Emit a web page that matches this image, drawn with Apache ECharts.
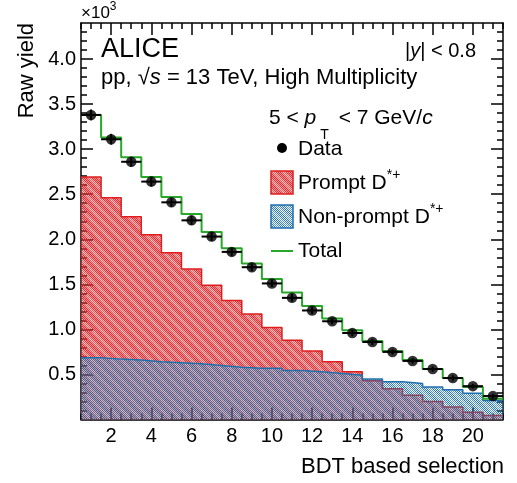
<!DOCTYPE html>
<html>
<head>
<meta charset="utf-8">
<script src="https://cdn.jsdelivr.net/npm/echarts@6/dist/echarts.min.js"></script>
<style>
html,body{margin:0;padding:0;background:#fff;}
#chart{width:517px;height:483px;}
</style>
</head>
<body>
<div id="chart"></div>
<script>
// ---- data (values in units of 10^3) ----
const bins = [1,2,3,4,5,6,7,8,9,10,11,12,13,14,15,16,17,18,19,20,21];
const dataYield = [3.38,3.11,2.86,2.64,2.41,2.21,2.03,1.86,1.69,1.51,1.35,1.21,1.09,0.96,0.86,0.75,0.65,0.56,0.46,0.37,0.26];
const dataErr   = [0.06,0.06,0.055,0.055,0.05,0.05,0.05,0.045,0.045,0.04,0.04,0.04,0.035,0.035,0.035,0.03,0.03,0.03,0.03,0.025,0.025];
const promptYield    = [2.69,2.46,2.25,2.05,1.85,1.67,1.49,1.32,1.17,1.02,0.88,0.76,0.64,0.53,0.43,0.34,0.27,0.20,0.14,0.08,0.045];
const nonPromptYield = [0.685,0.67,0.66,0.64,0.63,0.62,0.60,0.58,0.57,0.57,0.545,0.53,0.51,0.49,0.45,0.42,0.40,0.36,0.33,0.29,0.21];
const totalYield     = [3.38,3.13,2.91,2.69,2.47,2.28,2.08,1.90,1.73,1.56,1.41,1.26,1.12,0.99,0.87,0.76,0.66,0.56,0.46,0.36,0.23];
const xLabels = [2,4,6,8,10,12,14,16,18,20];
const yLabels = [0.5,1.0,1.5,2.0,2.5,3.0,3.5,4.0];

const FONT = '"Liberation Sans", Arial, Helvetica, sans-serif';

// ---- fill patterns (ROOT-like checker + hatch) ----
function makePattern(r,g,b,aOn,aOff,sOn,sOff){
  const n = 10;
  const c = document.createElement('canvas');
  c.width = n; c.height = n;
  const ctx = c.getContext('2d');
  for (let i=0;i<n;i++){
    for (let j=0;j<n;j++){
      const inStripe = ((i - j) % n + n) % n < 4;
      const on = (i + j) % 2 === 0;
      let a;
      if (!inStripe) a = on ? aOn : aOff;
      else a = on ? sOn : sOff;
      ctx.fillStyle = 'rgba('+r+','+g+','+b+','+a+')';
      ctx.fillRect(i,j,1,1);
    }
  }
  return c;
}
const redPat = makePattern(232,45,50, 1.0, 0.5, 0.75, 0.3);
const bluePat = makePattern(36,112,170, 0.95, 0.12, 0.7, 0.1);

function stepData(arr){
  const d = arr.map((v,i)=>[bins[i]-0.5, v]);
  d.push([bins[bins.length-1]+0.5, arr[arr.length-1]]);
  return d;
}

function range(a,b,s){ const r=[]; for(let v=a; v<=b+1e-9; v+=s) r.push(Math.round(v*100)/100); return r; }
const xMajor = range(2,20,2);
const xMinor = range(0.5,21.5,0.5).filter(v=>xMajor.indexOf(v)<0);
const yMajor = range(0.5,4.0,0.5);
const yMinor = range(0.1,4.3,0.1).filter(v=>yMajor.indexOf(v)<0);

function xAxisDef(pos, ticks, len, showLine, labels){
  return {
    type:'value', min:0.5, max:21.5, position:pos,
    axisLine:{show:showLine, onZero:false, lineStyle:{color:'#000', width:1.5}},
    axisTick:{show:true, inside:true, length:len, customValues:ticks, lineStyle:{color:'#000', width:1.5}},
    axisLabel: labels ? {show:true, customValues:labels, color:'#000', fontSize:20, fontFamily:FONT, margin:7} : {show:false},
    splitLine:{show:false}
  };
}
function yAxisDef(pos, ticks, len, showLine, labels){
  return {
    type:'value', min:0, max:4.4, position:pos,
    axisLine:{show:showLine, onZero:false, lineStyle:{color:'#000', width:1.5}},
    axisTick:{show:true, inside:true, length:len, customValues:ticks, lineStyle:{color:'#000', width:1.5}},
    axisLabel: labels ? {show:true, customValues:labels, color:'#000', fontSize:20, fontFamily:FONT, margin:5,
      formatter:(v)=>Number(v).toFixed(1)} : {show:false},
    splitLine:{show:false}
  };
}

const chart = echarts.init(document.getElementById('chart'), null, {renderer:'canvas'});

const option = {
  animation:false,
  backgroundColor:'#fff',
  grid:{left:81, right:14, top:23, bottom:63.5, containLabel:false},
  xAxis:[
    xAxisDef('bottom', xMajor, 12, true, xLabels),
    xAxisDef('bottom', xMinor, 6, false, null),
    xAxisDef('top', xMajor, 12, true, null),
    xAxisDef('top', xMinor, 6, false, null)
  ],
  yAxis:[
    yAxisDef('left', yMajor, 12, true, yLabels),
    yAxisDef('left', yMinor, 6, false, null),
    yAxisDef('right', yMajor, 12, true, null),
    yAxisDef('right', yMinor, 6, false, null)
  ],
  series:[
    {
      name:'Prompt D*+', type:'line', step:'end', data:stepData(promptYield),
      symbol:'none', z:2,
      lineStyle:{color:'#dc1e1e', width:1.5},
      areaStyle:{color:{image:redPat, repeat:'repeat'}, opacity:1}
    },
    {
      name:'Non-prompt D*+', type:'line', step:'end', data:stepData(nonPromptYield),
      symbol:'none', z:3,
      lineStyle:{color:'#1f6fad', width:1.5},
      areaStyle:{color:{image:bluePat, repeat:'repeat'}, opacity:1}
    },
    {
      name:'Total', type:'line', step:'end', data:stepData(totalYield),
      symbol:'none', z:4,
      lineStyle:{color:'#28a828', width:2}
    },
    {
      name:'Data errors', type:'custom', z:5,
      data:bins.map((b,i)=>[b, dataYield[i], dataErr[i]]),
      renderItem:function(params, api){
        const x = api.value(0), y = api.value(1), e = api.value(2);
        const h1 = api.coord([x-0.5, y]), h2 = api.coord([x+0.5, y]);
        const v1 = api.coord([x, y-e]), v2 = api.coord([x, y+e]);
        const st = {stroke:'#000', lineWidth:2};
        return {type:'group', children:[
          {type:'line', shape:{x1:h1[0], y1:h1[1], x2:h2[0], y2:h2[1]}, style:st},
          {type:'line', shape:{x1:v1[0], y1:v1[1], x2:v2[0], y2:v2[1]}, style:st}
        ]};
      }
    },
    {
      name:'Data', type:'scatter', z:6,
      data:bins.map((b,i)=>[b, dataYield[i]]),
      symbol:'circle', symbolSize:10.5,
      itemStyle:{color:'#000'}
    }
  ],
  graphic:[
    {type:'text', left:81, top:1, style:{text:'{a|×10}{b|3}', rich:{
      a:{fontSize:17, fontFamily:FONT, fill:'#000', lineHeight:21, verticalAlign:'bottom'},
      b:{fontSize:12, fontFamily:FONT, fill:'#000', lineHeight:21, verticalAlign:'top'}}}},
    {type:'text', x:27, y:23, rotation:Math.PI/2, style:{text:'Raw yield', font:'22px '+FONT, fill:'#000', textAlign:'right', textVerticalAlign:'middle'}},
    {type:'text', x:504, y:467, style:{text:'BDT based selection', font:'22px '+FONT, fill:'#000', textAlign:'right', textVerticalAlign:'middle'}},
    {type:'text', x:101, y:50, style:{text:'ALICE', font:'27px '+FONT, fill:'#000', textAlign:'left', textVerticalAlign:'middle'}},
    {type:'text', x:101, y:78, style:{text:'{n|pp, √}{i|s}{n| = 13 TeV, High Multiplicity}', textVerticalAlign:'middle', rich:{
      n:{fontSize:22, fontFamily:FONT, fill:'#000'},
      i:{fontSize:22, fontFamily:FONT, fill:'#000', fontStyle:'italic'}}}},
    {type:'text', x:476, y:51, style:{text:'{n||}{i|y}{n|| < 0.8}', textAlign:'right', textVerticalAlign:'middle', rich:{
      n:{fontSize:20, fontFamily:FONT, fill:'#000'},
      i:{fontSize:20, fontFamily:FONT, fill:'#000', fontStyle:'italic'}}}},
    {type:'text', x:269, y:123, style:{text:'{n|5 < }{i|p}{s|T}{n| < 7 GeV/}{i|c}', textAlign:'left', textVerticalAlign:'middle', rich:{
      n:{fontSize:21, fontFamily:FONT, fill:'#000', lineHeight:38, verticalAlign:'top', padding:[4,0,0,0]},
      i:{fontSize:21, fontFamily:FONT, fill:'#000', fontStyle:'italic', lineHeight:38, verticalAlign:'top', padding:[4,0,0,0]},
      s:{fontSize:14, fontFamily:FONT, fill:'#000', lineHeight:14, verticalAlign:'bottom', padding:[0,4,0,4]}}}},
    // legend
    {type:'circle', shape:{cx:282, cy:148, r:5}, style:{fill:'#000'}},
    {type:'text', x:298, y:149, style:{text:'Data', font:'21px '+FONT, fill:'#000', textVerticalAlign:'middle'}},
    {type:'rect', shape:{x:271, y:171, width:22, height:23}, style:{fill:{image:redPat, repeat:'repeat'}, stroke:'#dc1e1e', lineWidth:1.5}},
    {type:'text', x:298, y:183, style:{text:'{n|Prompt D}{s|*+}', textVerticalAlign:'middle', rich:{
      n:{fontSize:21, fontFamily:FONT, fill:'#000', lineHeight:30, verticalAlign:'middle'},
      s:{fontSize:14, fontFamily:FONT, fill:'#000', lineHeight:15, verticalAlign:'top'}}}},
    {type:'rect', shape:{x:271, y:205, width:22, height:23}, style:{fill:{image:bluePat, repeat:'repeat'}, stroke:'#1f6fad', lineWidth:1.5}},
    {type:'text', x:298, y:217, style:{text:'{n|Non-prompt D}{s|*+}', textVerticalAlign:'middle', rich:{
      n:{fontSize:21, fontFamily:FONT, fill:'#000', lineHeight:30, verticalAlign:'middle'},
      s:{fontSize:14, fontFamily:FONT, fill:'#000', lineHeight:15, verticalAlign:'top'}}}},
    {type:'line', shape:{x1:271, y1:251, x2:293, y2:251}, style:{stroke:'#28a828', lineWidth:2}},
    {type:'text', x:298, y:251, style:{text:'Total', font:'21px '+FONT, fill:'#000', textVerticalAlign:'middle'}}
  ]
};
chart.setOption(option);
</script>
</body>
</html>
